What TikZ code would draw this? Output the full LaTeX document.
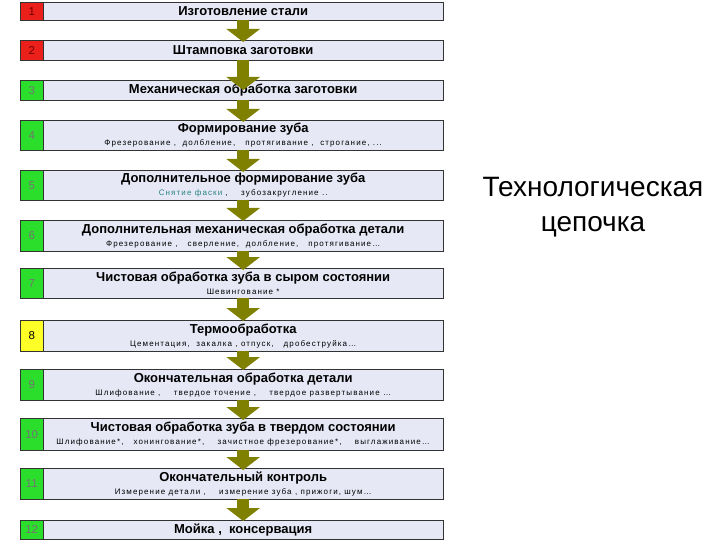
\documentclass[tikz,border=0pt]{standalone}
\usepackage{fontspec}
\setmainfont{Liberation Sans}
\newfontfamily\notefont[LetterSpace=14]{Liberation Sans}
\usetikzlibrary{arrows.meta}

\definecolor{boxfill}{RGB}{230,232,245}
\definecolor{numred}{RGB}{236,32,26}
\definecolor{numgreen}{RGB}{44,222,44}
\definecolor{numyellow}{RGB}{255,255,40}
\definecolor{flowcol}{RGB}{128,128,0}
\definecolor{notecyan}{RGB}{40,130,130}

\newcommand\stepnote[1]{{\notefont\mdseries\fontsize{8}{9}\selectfont #1}}

\begin{document}
\begin{tikzpicture} [x = 1pt, y = -1pt,
					numbox/.style = {draw = black!80,
					    anchor = north west,
					    minimum width = 23pt,
					    inner sep = 0pt,
					    font = \fontsize{11.5}{11.5}\selectfont},
					stepbox/.style = {draw = black!80,
					    fill = boxfill,
					    anchor = north west,
					    minimum width = 400pt,
					    inner sep = 0pt,
					    align = center,
					    font = \fontsize{13}{13}\selectfont\bfseries},
					flow/.style = {draw = flowcol,
					    line width = 12pt,
					    -{Triangle[width = 33pt, length = 13pt]}}]

					\useasboundingbox (0,0) rectangle (720,540);

					\node (n1) at (20,2) [numbox, fill = numred, minimum height = 18pt, text = red!45!black] {1};
					\node (t1) at (43,2) [stepbox, minimum height = 18pt] {Изготовление стали};

					\node (n2) at (20,40) [numbox, fill = numred, minimum height = 20pt, text = red!45!black] {2};
					\node (t2) at (43,40) [stepbox, minimum height = 20pt] {Штамповка заготовки};

					\node (n3) at (20,80) [numbox, fill = numgreen, minimum height = 20pt, text = black!55] {3};
					\node (t3) at (43,80) [stepbox, minimum height = 20pt] {Механическая обработка заготовки};

					\node (n4) at (20,120) [numbox, fill = numgreen, minimum height = 30pt, text = black!55] {4};
					\node (t4) at (43,120) [stepbox, minimum height = 30pt] {Формирование зуба\\
					    \stepnote{Фрезерование ,\ \ долбление,\ \ \ протягивание ,\ \ строгание, ...}};

					\node (n5) at (20,170) [numbox, fill = numgreen, minimum height = 30pt, text = black!55] {5};
					\node (t5) at (43,170) [stepbox, minimum height = 30pt] {Дополнительное формирование зуба\\
					    \stepnote{\textcolor{notecyan}{Снятие фаски} ,\ \ \ \ зубозакругление ..}};

					\node (n6) at (20,220) [numbox, fill = numgreen, minimum height = 31pt, text = black!55] {6};
					\node (t6) at (43,220) [stepbox, minimum height = 31pt] {Дополнительная механическая обработка детали\\
					    \stepnote{Фрезерование ,\ \ \ сверление,\ \ долбление,\ \ \ протягивание…}};

					\node (n7) at (20,268) [numbox, fill = numgreen, minimum height = 30pt, text = black!55] {7};
					\node (t7) at (43,268) [stepbox, minimum height = 30pt] {Чистовая обработка зуба в сыром состоянии\\
					    \stepnote{Шевингование *}};

					\node (n8) at (20,320) [numbox, fill = numyellow, minimum height = 31pt] {8};
					\node (t8) at (43,320) [stepbox, minimum height = 31pt] {Термообработка\\
					    \stepnote{Цементация,\ \ закалка , отпуск,\ \ \ дробеструйка…}};

					\node (n9) at (20,369) [numbox, fill = numgreen, minimum height = 31pt, text = black!55] {9};
					\node (t9) at (43,369) [stepbox, minimum height = 31pt] {Окончательная обработка детали\\
					    \stepnote{Шлифование ,\ \ \ \ твердое точение ,\ \ \ \ твердое развертывание …}};

					\node (n10) at (20,418) [numbox, fill = numgreen, minimum height = 32pt, text = black!55] {10};
					\node (t10) at (43,418) [stepbox, minimum height = 32pt] {Чистовая обработка зуба в твердом состоянии\\
					    \stepnote{Шлифование*,\ \ \ хонингование*,\ \ \ \ зачистное фрезерование*,\ \ \ \ выглаживание…}};

					\node (n11) at (20,468) [numbox, fill = numgreen, minimum height = 31pt, text = black!55] {11};
					\node (t11) at (43,468) [stepbox, minimum height = 31pt] {Окончательный контроль\\
					    \stepnote{Измерение детали ,\ \ \ \ измерение зуба , прижоги, шум…}};

					\node (n12) at (20,520) [numbox, fill = numgreen, minimum height = 19pt, text = black!55] {12};
					\node (t12) at (43,520) [stepbox, minimum height = 19pt] {Мойка ,\ \ консервация};

					\draw [flow] (t1.south) -- ([yshift = -2pt]t2.north);
					\draw [flow] (t2.south) -- ([yshift = -10pt]t3.north);
					\draw [flow] (t3.south) -- ([yshift = -2pt]t4.north);
					\draw [flow] (t4.south) -- ([yshift = -2pt]t5.north);
					\draw [flow] (t5.south) -- ([yshift = -1pt]t6.north);
					\draw [flow] (t6.south) -- ([yshift = -2pt]t7.north);
					\draw [flow] (t7.south) -- ([yshift = -1pt]t8.north);
					\draw [flow] (t8.south) -- ([yshift = -1pt]t9.north);
					\draw [flow] (t9.south) -- ([yshift = -2pt]t10.north);
					\draw [flow] (t10.south) -- ([yshift = -2pt]t11.north);
					\draw [flow] (t11.south) -- ([yshift = -1pt]t12.north);

					\node (chain) at (593,207) [align = center, font = \fontsize{28}{35}\selectfont] {Технологическая\\цепочка};

				\end{tikzpicture}
\end{document}
